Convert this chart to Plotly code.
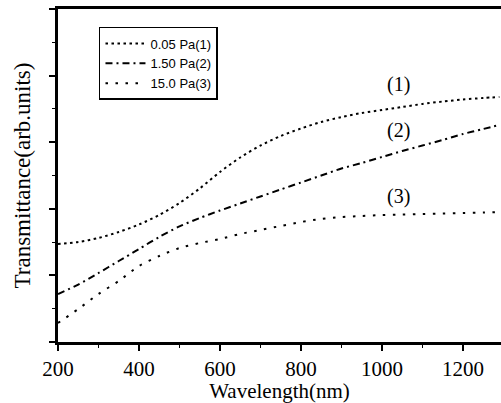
import plotly.graph_objects as go

wavelength = [200, 250, 300, 350, 400, 450, 500, 550, 600, 650, 700, 750,
              800, 850, 900, 950, 1000, 1050, 1100, 1150, 1200, 1250, 1290]
t_005 = [1.471, 1.502, 1.562, 1.652, 1.764, 1.907, 2.087, 2.305, 2.553, 2.770, 2.950, 3.093,
         3.206, 3.303, 3.378, 3.438, 3.483, 3.529, 3.574, 3.611, 3.641, 3.664, 3.679]
t_150 = [0.721, 0.863, 1.036, 1.216, 1.396, 1.577, 1.735, 1.862, 1.974, 2.080, 2.185, 2.290,
         2.395, 2.500, 2.605, 2.688, 2.778, 2.868, 2.950, 3.033, 3.123, 3.198, 3.258]
t_15 = [0.285, 0.495, 0.721, 0.916, 1.141, 1.291, 1.411, 1.486, 1.547, 1.622, 1.682, 1.742,
        1.802, 1.847, 1.877, 1.892, 1.907, 1.914, 1.922, 1.929, 1.937, 1.944, 1.952]

series_names = ["0.05 Pa(1)", "1.50 Pa(2)", "15.0 Pa(3)"]
curve_labels = ["(1)", "(2)", "(3)"]
label_x = [1040, 1040, 1040]
label_y = [3.87, 3.17, 2.19]

serif = "Liberation Serif"
sans = "Liberation Sans"

fig = go.Figure()
dashes = ["2.5px,3.5px", "7px,4px,2px,4px", "2.5px,7.5px"]
for name, ys, d in zip(series_names, [t_005, t_150, t_15], dashes):
    fig.add_trace(go.Scatter(
        x=wavelength, y=ys, mode="lines", name=name,
        line=dict(color="black", width=2, dash=d, shape="spline", smoothing=0.8),
    ))

for t, xx, yy in zip(curve_labels, label_x, label_y):
    fig.add_annotation(x=xx, y=yy, text=t, showarrow=False,
                       font=dict(family=serif, size=20, color="black"))

fig.update_layout(
    width=501, height=403,
    margin=dict(l=58, r=0, t=9, b=61),
    paper_bgcolor="white", plot_bgcolor="white",
    showlegend=True,
    legend=dict(
        x=0.0925, y=0.946, xanchor="left", yanchor="top",
        bordercolor="black", borderwidth=1.5, bgcolor="white",
        font=dict(family=sans, size=13, color="black"),
        itemwidth=40, tracegroupgap=0,
    ),
    xaxis=dict(
        range=[200, 1294], showgrid=False, zeroline=False,
        showline=True, linecolor="black", linewidth=2.5, mirror=True,
        ticks="outside", ticklen=6, tickwidth=1.5, tickcolor="black",
        tick0=200, dtick=200,
        minor=dict(ticks="outside", ticklen=3, dtick=100, tick0=200, tickcolor="black", tickwidth=1),
        tickfont=dict(family=serif, size=21, color="black"),
        title=dict(text="Wavelength(nm)", font=dict(family=serif, size=21, color="black"), standoff=4),
    ),
    yaxis=dict(
        range=[0, 5], showgrid=False, zeroline=False,
        showline=True, linecolor="black", linewidth=2.5,
        ticks="outside", ticklen=6, tickwidth=1.5, tickcolor="black",
        tick0=0, dtick=1, showticklabels=False,
        minor=dict(ticks="outside", ticklen=3, dtick=0.5, tickcolor="black", tickwidth=1),
        title=dict(text="Transmittance(arb.units)", font=dict(family=serif, size=23, color="black"), standoff=13),
    ),
)

fig.write_html("out.html")
